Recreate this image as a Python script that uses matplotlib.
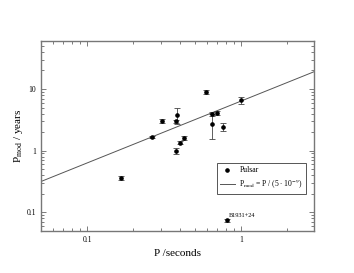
import matplotlib
matplotlib.use("Agg")
import numpy as np
import matplotlib.pyplot as plt
from matplotlib.lines import Line2D

plt.rcParams['font.family'] = ['Liberation Serif', 'DejaVu Serif']
plt.rcParams['mathtext.fontset'] = 'stix'

# pulsar periods (s) and modulation periods (years)
period = [0.167, 0.266, 0.306, 0.379, 0.386, 0.379, 0.403, 0.428,
          0.596, 0.648, 0.645, 0.703, 0.763, 1.01, 0.813]
p_mod = [0.366, 1.67, 3.02, 3.0, 3.78, 0.99, 1.35, 1.6,
         9.0, 3.95, 2.72, 4.12, 2.45, 6.6, 0.074]
p_mod_err = [0.03, 0.06, 0.2, 0.2, 1.1, 0.12, 0.08, 0.12,
             0.7, 0.3, 1.15, 0.3, 0.4, 0.9, 0.004]

fit_x = [0.05, 3.0]
fit_y = [p / 5e-9 / 3.156e7 for p in fit_x]

fig = plt.figure(figsize=(3.54, 2.73), dpi=100)
ax = fig.add_axes([0.116, 0.154, 0.771, 0.696])

ax.plot(fit_x, fit_y, color='#555555', lw=0.7)
ax.errorbar(period, p_mod, yerr=p_mod_err, fmt='o', color='black', ms=2.3,
            ecolor='#444444', elinewidth=0.6, capsize=2, capthick=0.6)

ax.text(0.835, 0.083, 'B1931+24', fontsize=4.5)

ax.set_xscale('log')
ax.set_yscale('log')
ax.set_xlim(0.05, 3)
ax.set_ylim(0.05, 60)
ax.set_xticks([0.1, 1])
ax.set_xticklabels(['0.1', '1'])
ax.set_yticks([0.1, 1, 10])
ax.set_yticklabels(['0.1', '1', '10'])

ax.tick_params(which='both', direction='in', top=True, right=True,
               labelsize=5.5, color='#666666', width=0.6)
ax.tick_params(which='major', length=3.5)
ax.tick_params(which='minor', length=2)
for s in ax.spines.values():
    s.set_color('#777777')
    s.set_linewidth(1.0)

ax.set_xlabel('P /seconds', fontsize=8)
ax.set_ylabel(r'P$_{\rm mod}$ / years', fontsize=8, labelpad=1)

handles = [Line2D([], [], ls='none', marker='o', color='black', ms=2.3),
           Line2D([], [], color='#555555', lw=0.7)]
labels = ['Pulsar', r'P$_{\rm mod}$ = P / (5 $\cdot$ 10$^{-9}$)']
leg = ax.legend(handles, labels, loc='center right',
                bbox_to_anchor=(0.985, 0.276), fontsize=5.5, fancybox=False,
                edgecolor='#555555', framealpha=1, handlelength=2.0,
                borderpad=0.4, labelspacing=0.4, handletextpad=0.6)
leg.get_frame().set_linewidth(0.7)

fig.savefig('out.png', dpi=100)
